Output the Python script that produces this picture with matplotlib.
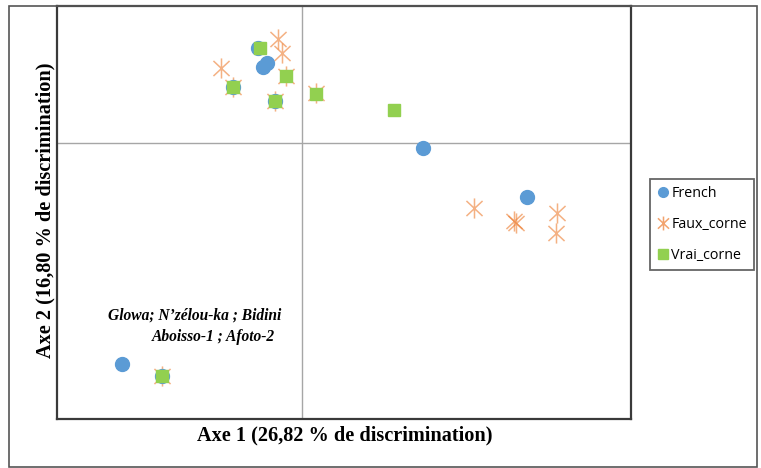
import matplotlib
matplotlib.use("Agg")
import matplotlib.pyplot as plt
from matplotlib.path import Path
from matplotlib.patches import Rectangle
from matplotlib.lines import Line2D

# coordinates on the two discriminant axes
french_x = [-0.88, -0.78, -0.70, -1.38, -0.54, 2.42, 4.50, -3.60, -2.80]
french_y = [1.90, 1.52, 1.60, 1.12, 0.84, -0.10, -1.08, -4.42, -4.66]

faux_x = [-0.48, -0.40, -1.62, -0.32, -1.38, -0.54, 0.28, 3.44, 4.24, 4.28, 5.10, 5.08, -2.80]
faux_y = [2.08, 1.80, 1.50, 1.34, 1.12, 0.84, 1.00, -1.30, -1.56, -1.60, -1.40, -1.80, -4.66]

vrai_x = [-0.84, -0.32, -1.38, -0.54, 0.28, 1.84, -2.80]
vrai_y = [1.90, 1.34, 1.12, 0.84, 0.98, 0.66, -4.66]

labels = ["French", "Faux_corne", "Vrai_corne"]

blue = "#5B9BD5"
orange = "#ED7D31"
green = "#92D050"

# excel like star: X with a vertical bar
star = Path(
    [(0, -1), (0, 1), (-0.8, -0.75), (0.8, 0.75), (-0.8, 0.75), (0.8, -0.75)],
    [Path.MOVETO, Path.LINETO, Path.MOVETO, Path.LINETO, Path.MOVETO, Path.LINETO],
)

fig = plt.figure(figsize=(7.61, 4.68), dpi=100)
ax = fig.add_axes([57 / 761, 1 - 419 / 468, 574 / 761, 413 / 468])

ax.axvline(0, color="#A6A6A6", lw=1, zorder=1)
ax.axhline(0, color="#A6A6A6", lw=1, zorder=1)

ax.plot(faux_x, faux_y, ls="none", marker=star, ms=14.5, mew=1.1,
        color=orange, alpha=0.6, zorder=2)
ax.plot(french_x, french_y, ls="none", marker="o", ms=10, color=blue,
        mec=blue, zorder=3)
ax.plot(vrai_x, vrai_y, ls="none", marker="s", ms=9.3, color=green,
        mec=green, zorder=4)

ax.set_xlim(-4.9, 6.58)
ax.set_ylim(-5.52, 2.74)
ax.set_xticks([])
ax.set_yticks([])
for s in ax.spines.values():
    s.set_color("#3A3A3A")
    s.set_linewidth(1.6)

serif = ["Liberation Serif", "DejaVu Serif"]
ax.set_xlabel("Axe 1 (26,82 % de discrimination)", family=serif,
              fontweight="bold", fontsize=14.6, va="center")
ax.xaxis.set_label_coords(0.502, -0.039)
ax.set_ylabel("Axe 2 (16,80 % de discrimination)", family=serif,
              fontweight="bold", fontsize=14.6, va="center")
ax.yaxis.set_label_coords(-0.02, 0.506)

ax.text(-2.14, -3.46, "Glowa; N\u2019z\u00e9lou-ka ; Bidini", family=serif,
        fontweight="bold", style="italic", fontsize=11.2, ha="center", va="center")
ax.text(-1.78, -3.88, "Aboisso-1 ; Afoto-2", family=serif,
        fontweight="bold", style="italic", fontsize=11.2, ha="center", va="center")

handles = [
    Line2D([], [], ls="none", marker="o", ms=7, color=blue),
    Line2D([], [], ls="none", marker=star, ms=10, mew=1.1, color=orange, alpha=0.7),
    Line2D([], [], ls="none", marker="s", ms=7, color=green),
]
leg = fig.legend(handles, labels, loc="upper left", bbox_to_anchor=(650 / 761, 1 - 179 / 468),
                 prop={"family": ["Open Sans", "DejaVu Sans"], "size": 10.3},
                 frameon=True, fancybox=False, edgecolor="#404040",
                 handlelength=0.8, handletextpad=0.2, labelspacing=1.1,
                 borderpad=0.5, borderaxespad=0)
leg.get_frame().set_linewidth(1.3)

fig.patches.append(Rectangle((9 / 761, 1 - 467 / 468), 748 / 761, 461 / 468,
                             transform=fig.transFigure, fill=False,
                             edgecolor="#555555", lw=1.2))

fig.savefig("out.png", dpi=100)
